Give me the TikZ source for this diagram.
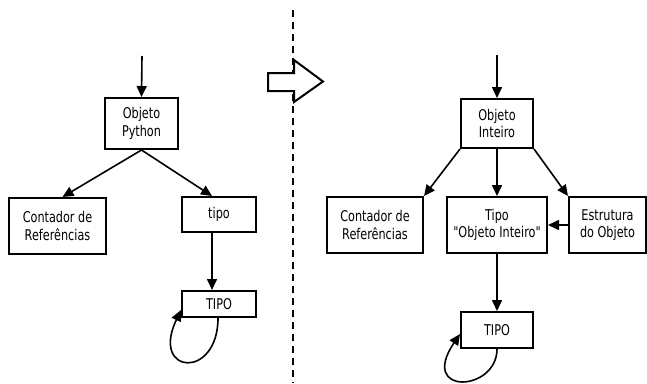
\documentclass[tikz,border=0pt]{standalone}
\usepackage{fontspec}
\usetikzlibrary{arrows.meta}
\newfontfamily\lblfont[FakeStretch=0.76]{DejaVu Sans}
\begin{document}
\begin{tikzpicture}[x=1pt,y=-1pt,
  box/.style={draw,line width=2pt,fill=white,inner sep=0pt,align=center,
    font=\lblfont\fontsize{14.8}{17.5}\selectfont},
  conn/.style={line width=1.6pt,-{Triangle[length=11pt,width=10pt]}},
  divider/.style={line width=1.2pt,dash pattern=on 7pt off 5pt}]
\useasboundingbox (0,0) rectangle (647,383);

% left side: generic Python object
\node[box,minimum width=73pt,minimum height=51pt] (op) at (141.5,123.5) {Objeto\\Python};
\node[box,minimum width=97pt,minimum height=56pt] (cr1) at (57.5,226) {Contador de\\Referências};
\node[box,minimum width=74pt,minimum height=35pt] (tipo) at (219,214.5) {tipo};
\node[box,minimum width=74pt,minimum height=26pt] (T1) at (219,304) {TIPO};
\coordinate (in1) at (142,56);

\draw[conn] (in1) -- (op.north);
\draw[conn] (op.south) -- ([xshift=5pt]cr1.north);
\draw[conn] (op.south) -- ([xshift=-7pt]tipo.north);
\draw[conn] ([xshift=-7pt]tipo.south) -- ([xshift=-7pt]T1.north);
\draw[conn] ([xshift=-1pt]T1.south) .. controls (218,380) and (150,375) .. ([yshift=-6pt]T1.west);

% dashed separator
\coordinate (d1) at (293,10);
\coordinate (d2) at (293,383);
\draw[divider] (d1) -- (d2);

% hollow block arrow
\draw[line width=2pt,fill=white] (268,73) -- (294,73) -- (294,60) -- (323,81.5)
  -- (294,102) -- (294,91) -- (268,91) -- cycle;

% right side: integer object
\node[box,minimum width=72pt,minimum height=49pt] (oi) at (497,123.5) {Objeto\\Inteiro};
\node[box,minimum width=96pt,minimum height=56pt] (cr2) at (375,225) {Contador de\\Referências};
\node[box,minimum width=100pt,minimum height=56pt] (tp) at (497,225) {Tipo\\"Objeto Inteiro"};
\node[box,minimum width=77pt,minimum height=56pt] (es) at (607.5,225) {Estrutura\\do Objeto};
\node[box,minimum width=72pt,minimum height=36pt] (T2) at (497,330) {TIPO};
\coordinate (in2) at (497,55);

\draw[conn] (in2) -- (oi.north);
\draw[conn] (oi.south west) -- (cr2.north east);
\draw[conn] (oi.south) -- (tp.north);
\draw[conn] (oi.south east) -- (es.north west);
\draw[conn] (es.west) -- (tp.east);
\draw[conn] (tp.south) -- (T2.north);
\draw[conn] (T2.south) .. controls (497,392) and (418,396) .. ([yshift=-4pt]T2.west);
\end{tikzpicture}
\end{document}
